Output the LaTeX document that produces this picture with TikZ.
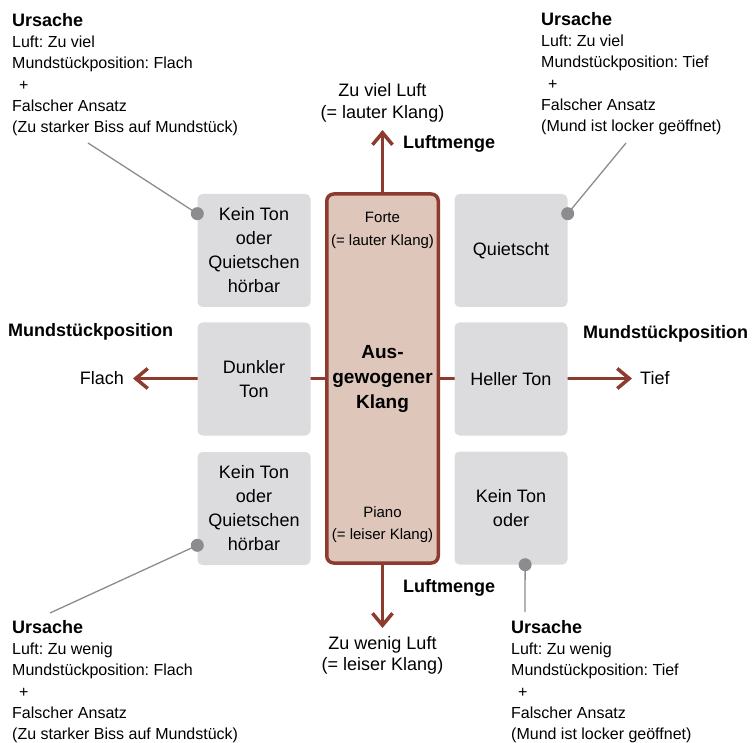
\documentclass[tikz,border=0pt]{standalone}
\usepackage{fontspec}
\setmainfont{Liberation Sans}
\usetikzlibrary{arrows.meta,positioning}
\frenchspacing
\definecolor{klangrot}{HTML}{8E3B2F}
\definecolor{klangfill}{HTML}{DEC6BA}
\definecolor{feldgrau}{HTML}{DCDCDE}
\definecolor{liniengrau}{HTML}{8C8C90}
\tikzset{
  zentrumbox/.style={draw=klangrot,fill=klangfill,line width=3.5pt,rounded corners=7pt,
    minimum width=111.5pt,minimum height=369pt,align=center,
    font=\fontsize{19}{25}\selectfont\bfseries},
  feld/.style={fill=feldgrau,rounded corners=5pt,minimum width=113pt,minimum height=113pt,
    align=center,inner sep=2pt,font=\fontsize{18}{24}\selectfont},
  klein/.style={align=center,inner sep=0pt,font=\fontsize{15}{22.5}\selectfont},
  gross/.style={align=center,inner sep=0pt,font=\fontsize{18}{21.5}\selectfont},
  titel/.style={inner sep=0pt,font=\fontsize{18}{21}\selectfont\bfseries},
  achse/.style={draw=klangrot,line width=3.5pt,-{Straight Barb[length=12pt,width=20pt]}},
  ursache/.style={anchor=north west,align=left,inner sep=0pt,font=\fontsize{16}{21.3}\selectfont},
  fuehrung/.style={draw=liniengrau,line width=1.3pt},
  punkt/.style={fill=liniengrau},
}
\newcommand{\ursachekopf}{{\fontsize{18}{21.3}\selectfont\bfseries Ursache}}
\newcommand{\plus}{\hspace*{7pt}+}
\begin{document}
\begin{tikzpicture}[x=1pt,y=-1pt]
\useasboundingbox (0,0) rectangle (755,743);
% Mitte
\node[zentrumbox] (zentrum) at (382.5,378.5) {Aus-\\gewogener\\Klang};
\node[klein,anchor=north] (forte) at (382.5,212) {Forte\\(= lauter Klang)};
\node[klein,anchor=north] (piano) at (382.5,506) {Piano\\(= leiser Klang)};
% Achsen
\coordinate (luftmehr) at (382.5,130);
\coordinate (luftweniger) at (382.5,628);
\coordinate (flachende) at (133,378.5);
\coordinate (tiefende) at (632,378.5);
\draw[achse] (zentrum.north) -- (luftmehr);
\draw[achse] (zentrum.south) -- (luftweniger);
\draw[achse] (zentrum.west) -- (flachende);
\draw[achse] (zentrum.east) -- (tiefende);
\node[gross,above=8pt of luftmehr] (zuviel) {Zu viel Luft\\(= lauter Klang)};
\node[gross,below=8pt of luftweniger] (zuwenig) {Zu wenig Luft\\(= leiser Klang)};
\node[gross,left=9pt of flachende] (flach) {Flach};
\node[gross,right=8pt of tiefende] (tief) {Tief};
\node[titel,anchor=base west] (mengeoben) at (403,149) {Luftmenge};
\node[titel,anchor=base west] (mengeunten) at (403,592) {Luftmenge};
\node[titel,anchor=base west] (posflach) at (8,337) {Mundstückposition};
\node[titel,anchor=base west] (postief) at (583,338) {Mundstückposition};
% Felder
\node[feld] (kl1) at (254,250.5) {Kein Ton\\oder\\Quietschen\\hörbar};
\node[feld] (kl2) at (254,379) {Dunkler\\Ton};
\node[feld] (kl3) at (254,508.5) {Kein Ton\\oder\\Quietschen\\hörbar};
\node[feld] (kr1) at (511,250.5) {Quietscht};
\node[feld] (kr2) at (511,379) {Heller Ton};
\node[feld] (kr3) at (511,508) {Kein Ton\\oder};
% Ursachen
\node[ursache] (ursTL) at (12,13) {\ursachekopf\\Luft: Zu viel\\Mundstückposition: Flach\\\plus\\Falscher Ansatz\\(Zu starker Biss auf Mundstück)};
\node[ursache] (ursTR) at (541,12) {\ursachekopf\\Luft: Zu viel\\Mundstückposition: Tief\\\plus\\Falscher Ansatz\\(Mund ist locker geöffnet)};
\node[ursache] (ursBL) at (12,620) {\ursachekopf\\Luft: Zu wenig\\Mundstückposition: Flach\\\plus\\Falscher Ansatz\\(Zu starker Biss auf Mundstück)};
\node[ursache] (ursBR) at (511,620) {\ursachekopf\\Luft: Zu wenig\\Mundstückposition: Tief\\\plus\\Falscher Ansatz\\(Mund ist locker geöffnet)};
\coordinate (tlende) at (88,143);
\coordinate (trende) at (626,143);
\coordinate (blende) at (50,613);
\coordinate (brende) at (525,612);
\draw[fuehrung] (tlende) -- (kl1.147);
\draw[fuehrung] (trende) -- (kr1.33);
\draw[fuehrung] (blende) -- (kl3.213);
\draw[fuehrung] (brende) -- (kr3.-76);
\fill[punkt] (kl1.147) circle (6.5pt);
\fill[punkt] (kr1.33) circle (6.5pt);
\fill[punkt] (kl3.213) circle (6.5pt);
\fill[punkt] (kr3.-76) circle (6.5pt);
\end{tikzpicture}
\end{document}
